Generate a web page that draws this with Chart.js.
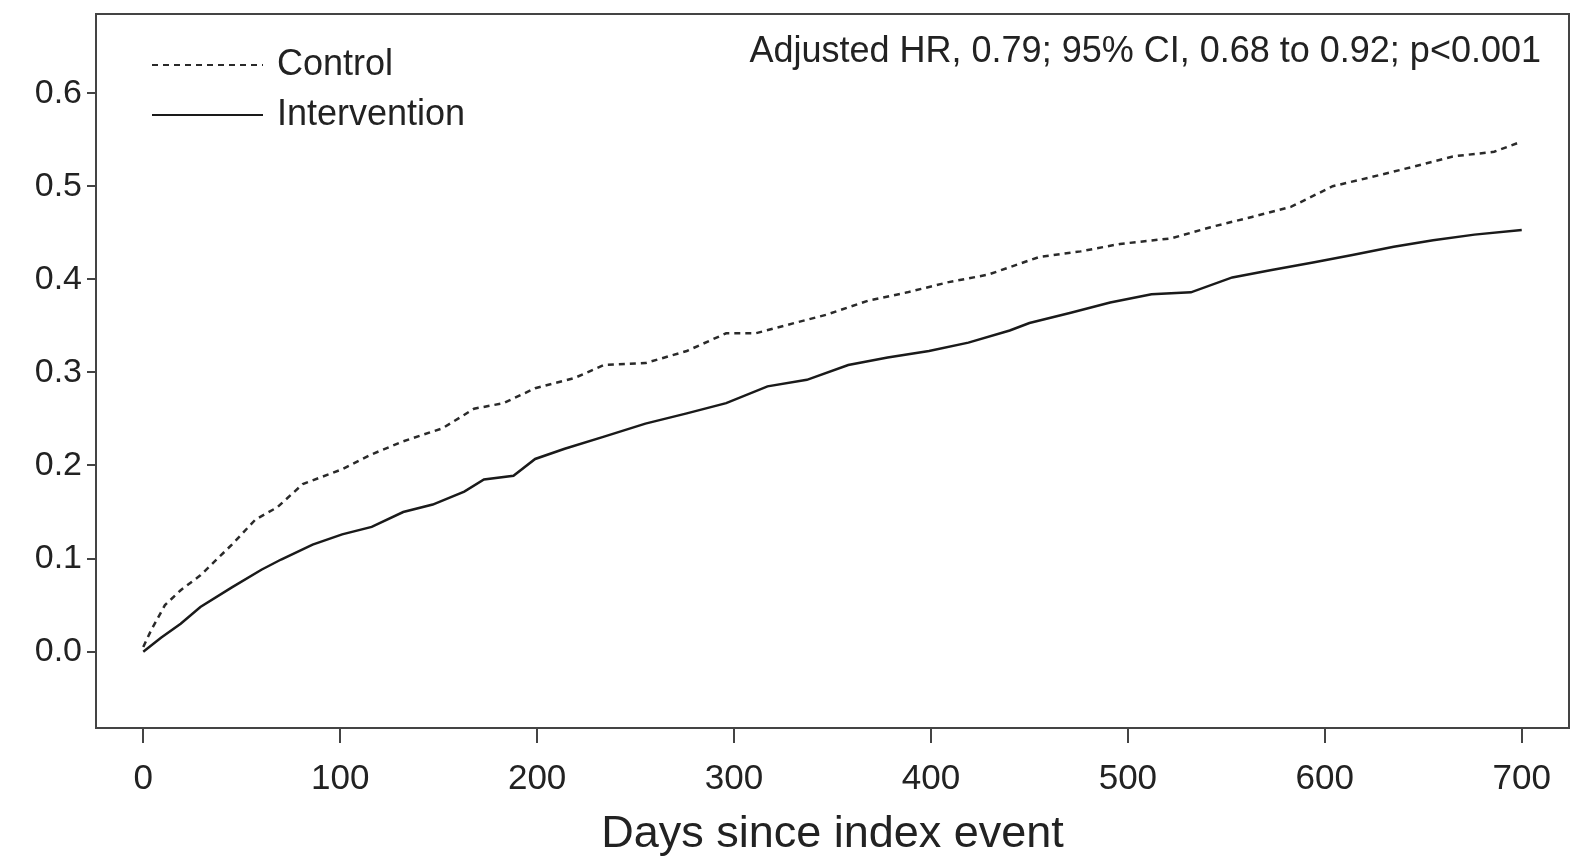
<!DOCTYPE html>
<html>
<head>
<meta charset="utf-8">
<script src="https://cdn.jsdelivr.net/npm/chart.js@4.4.1/dist/chart.umd.min.js"></script>
<style>
  html, body { margin: 0; padding: 0; background: #fff; }
  #wrap { width: 1583px; height: 856px; }
</style>
</head>
<body>
<div id="wrap"><canvas id="grafico"></canvas></div>
<script>
// dias e incidência acumulada
const diasControle = [0, 4, 11, 19, 29, 45, 57, 68, 81, 101, 116, 132, 152, 168, 183, 199, 219, 234, 255, 276, 296, 311, 327, 347, 368, 388, 409, 429, 455, 476, 496, 522, 542, 563, 583, 604, 624, 645, 665, 686, 700];
const valoresControle = [0.005, 0.023, 0.05, 0.066, 0.082, 0.115, 0.142, 0.155, 0.18, 0.196, 0.212, 0.226, 0.24, 0.261, 0.267, 0.283, 0.294, 0.308, 0.31, 0.323, 0.342, 0.342, 0.351, 0.362, 0.377, 0.386, 0.397, 0.405, 0.424, 0.43, 0.438, 0.444, 0.456, 0.467, 0.478, 0.5, 0.51, 0.521, 0.532, 0.537, 0.548];

const diasIntervencao = [0, 9, 19, 29, 45, 60, 70, 86, 101, 116, 132, 147, 163, 173, 188, 199, 214, 234, 255, 276, 296, 317, 337, 358, 378, 399, 419, 440, 450, 471, 491, 512, 532, 553, 573, 594, 614, 635, 655, 676, 700];
const valoresIntervencao = [0, 0.015, 0.03, 0.048, 0.069, 0.088, 0.099, 0.115, 0.126, 0.134, 0.15, 0.158, 0.172, 0.185, 0.189, 0.207, 0.218, 0.231, 0.245, 0.256, 0.267, 0.285, 0.292, 0.308, 0.316, 0.323, 0.332, 0.345, 0.353, 0.364, 0.375, 0.384, 0.386, 0.402, 0.41, 0.418, 0.426, 0.435, 0.442, 0.448, 0.453];

const ticksX = [0, 100, 200, 300, 400, 500, 600, 700];
const ticksY = [0, 0.1, 0.2, 0.3, 0.4, 0.5, 0.6];

const textoHR = 'Adjusted HR, 0.79; 95% CI, 0.68 to 0.92; p<0.001';
const tituloX = 'Days since index event';

const FONTE = '"Liberation Sans", Arial, Helvetica, sans-serif';
const COR = '#222';

Chart.defaults.font.family = FONTE;
Chart.defaults.color = COR;

const pontos = (xs, ys) => xs.map((x, i) => ({ x, y: ys[i] }));

// caixa em volta da área, legenda e texto do HR
const moldura = {
  id: 'moldura',
  afterDraw(chart) {
    const { ctx, chartArea: a } = chart;
    ctx.save();
    ctx.strokeStyle = '#444';
    ctx.lineWidth = 2;
    ctx.strokeRect(a.left, a.top, a.right - a.left, a.bottom - a.top);

    ctx.font = '36px ' + FONTE;
    ctx.fillStyle = COR;
    ctx.textBaseline = 'middle';
    ctx.textAlign = 'right';
    ctx.fillText(textoHR, 1541, 52);

    ctx.textAlign = 'left';
    const linhas = [65, 115];
    chart.data.datasets.forEach((ds, i) => {
      const y = linhas[i];
      ctx.strokeStyle = ds.borderColor;
      ctx.lineWidth = 2;
      ctx.setLineDash(ds.borderDash || []);
      ctx.beginPath();
      ctx.moveTo(152, y);
      ctx.lineTo(263, y);
      ctx.stroke();
      ctx.setLineDash([]);
      ctx.fillText(ds.label, 277, y);
    });
    ctx.restore();
  }
};

const ctx = document.getElementById('grafico').getContext('2d');
new Chart(ctx, {
  type: 'line',
  data: {
    datasets: [
      {
        label: 'Control',
        data: pontos(diasControle, valoresControle),
        borderColor: '#2a2a2a',
        borderWidth: 2.5,
        borderDash: [6, 5],
        pointRadius: 0,
        fill: false,
        tension: 0
      },
      {
        label: 'Intervention',
        data: pontos(diasIntervencao, valoresIntervencao),
        borderColor: '#1a1a1a',
        borderWidth: 2.5,
        pointRadius: 0,
        fill: false,
        tension: 0
      }
    ]
  },
  options: {
    responsive: true,
    maintainAspectRatio: false,
    animation: false,
    layout: { padding: { top: 14, right: 14, left: 0, bottom: 0 } },
    plugins: {
      legend: { display: false },
      tooltip: { enabled: false }
    },
    scales: {
      x: {
        type: 'linear',
        min: -24,
        max: 724,
        afterFit: s => { s.height = 128; s.paddingLeft = 0; s.paddingRight = 0; },
        afterBuildTicks: s => { s.ticks = ticksX.map(v => ({ value: v })); },
        border: { display: false },
        grid: { drawOnChartArea: false, drawTicks: true, tickLength: 15, color: '#444', lineWidth: 2 },
        ticks: { font: { size: 35 }, color: COR, padding: 15, maxRotation: 0 },
        title: { display: true, text: tituloX, font: { size: 45 }, color: COR, padding: { top: 0, bottom: -6 } }
      },
      y: {
        type: 'linear',
        min: -0.082,
        max: 0.685,
        afterFit: s => { s.width = 96; s.paddingTop = 0; s.paddingBottom = 0; },
        afterBuildTicks: s => { s.ticks = ticksY.map(v => ({ value: v })); },
        border: { display: false },
        grid: { drawOnChartArea: false, drawTicks: true, tickLength: 9, color: '#444', lineWidth: 2 },
        ticks: { font: { size: 34 }, color: COR, padding: 5, callback: v => v.toFixed(1) }
      }
    }
  },
  plugins: [moldura]
});
</script>
</body>
</html>
